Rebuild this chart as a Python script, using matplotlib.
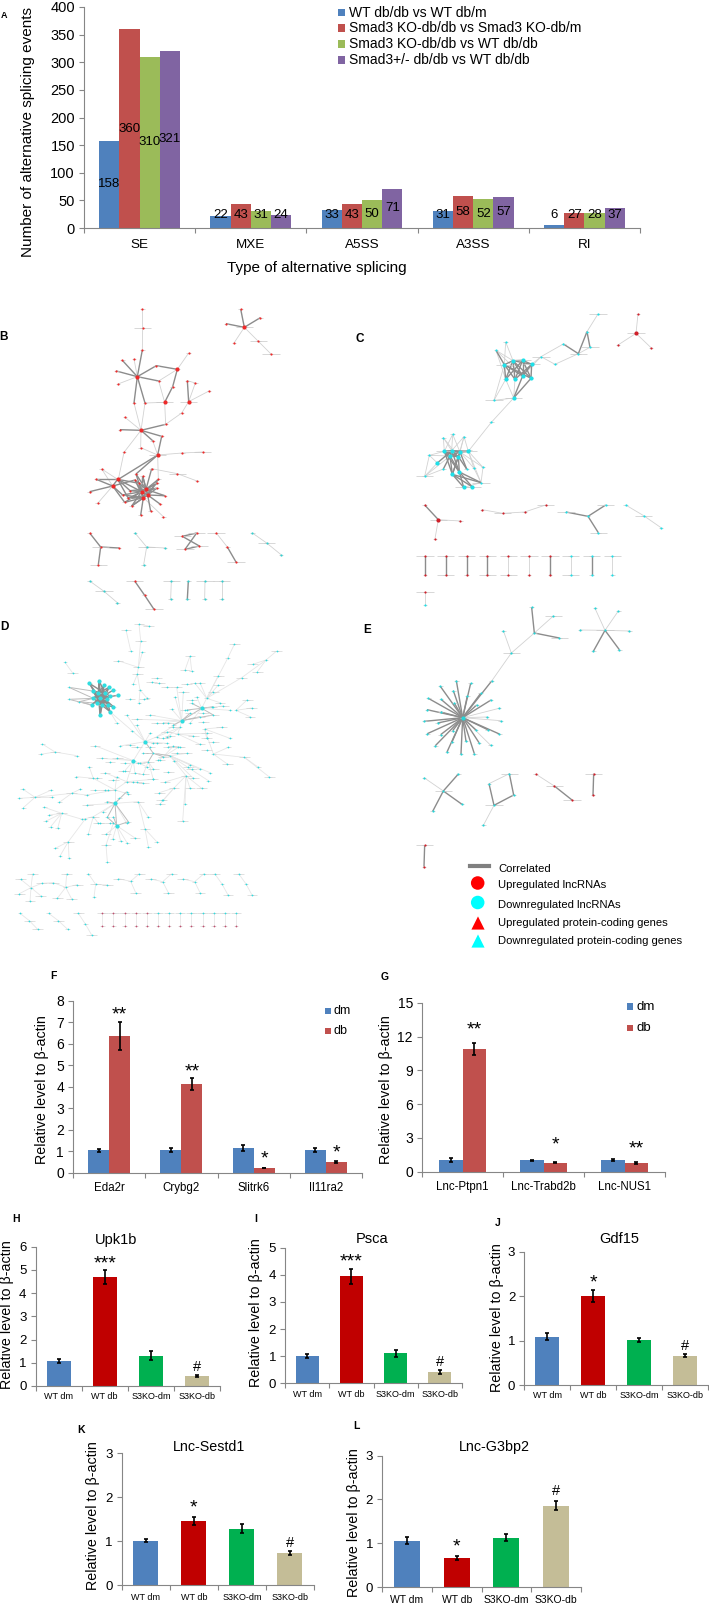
#!/usr/bin/env python3
# -*- coding: utf-8 -*-

import matplotlib
matplotlib.use("Agg")
import matplotlib.pyplot as plt
from matplotlib.collections import LineCollection

W, H = 709, 1607

# ---------------------------------------------------------------------
# Panel A
A_types = ["SE", "MXE", "A5SS", "A3SS", "RI"]
A_names = ["WT db/db vs WT db/m", "Smad3 KO-db/db vs Smad3 KO-db/m",
           "Smad3 KO-db/db vs WT db/db", "Smad3+/- db/db vs WT db/db"]
A_wt = [158, 22, 33, 31, 6]
A_ko = [360, 43, 43, 58, 27]
A_ko_wt = [310, 31, 50, 52, 28]
A_het = [321, 24, 71, 57, 37]
A_ticks = [0, 50, 100, 150, 200, 250, 300, 350, 400]

# ---------------------------------------------------------------------
# Panels F, G
F_genes = ["Eda2r", "Crybg2", "Slitrk6", "Il11ra2"]
F_dm = [1.05, 1.07, 1.15, 1.07]
F_db = [6.37, 4.14, 0.22, 0.50]
F_dm_err = [0.07, 0.10, 0.12, 0.09]
F_db_err = [0.67, 0.27, 0.02, 0.03]
F_marks = ["**", "**", "*", "*"]
F_mark_y = [7.33, 4.70, 0.63, 0.90]

G_genes = ["Lnc-Ptpn1", "Lnc-Trabd2b", "Lnc-NUS1"]
G_dm = [1.05, 1.03, 1.05]
G_db = [10.9, 0.80, 0.75]
G_dm_err = [0.20, 0.05, 0.07]
G_db_err = [0.50, 0.06, 0.07]
G_marks = ["**", "*", "**"]
G_mark_y = [12.6, 2.37, 2.0]

# ---------------------------------------------------------------------
# Panels H - L
groups = ["WT dm", "WT db", "S3KO-dm", "S3KO-db"]
H_vals = [1.08, 4.70, 1.30, 0.42]
H_errs = [0.10, 0.30, 0.20, 0.04]
H_marks = ["", "***", "", "#"]
H_mark_y = [0, 5.27, 0, 0.83]
I_vals = [1.00, 3.95, 1.10, 0.42]
I_errs = [0.08, 0.28, 0.14, 0.06]
I_marks = ["", "***", "", "#"]
I_mark_y = [0, 4.47, 0, 0.78]
J_vals = [1.09, 2.00, 1.01, 0.66]
J_errs = [0.08, 0.13, 0.05, 0.04]
J_marks = ["", "*", "", "#"]
J_mark_y = [0, 2.30, 0, 0.88]
K_vals = [1.01, 1.45, 1.28, 0.73]
K_errs = [0.03, 0.09, 0.10, 0.04]
K_marks = ["", "*", "", "#"]
K_mark_y = [0, 1.75, 0, 0.95]
L_vals = [1.06, 0.66, 1.13, 1.86]
L_errs = [0.08, 0.05, 0.08, 0.10]
L_marks = ["", "*", "", "#"]
L_mark_y = [0, 0.91, 0, 2.20]

# ---------------------------------------------------------------------
# Networks, node positions read off the 350x330 crops (crop px x 3)
# each entry: (node, [linked nodes])
B_heavy = [
    ((733, 142), [(722, 87), (781, 113), (678, 131)]),
    ((412, 290), [(427, 210), (367, 241), (349, 273), (476, 303), (402, 369), (435, 369), (469, 257)]),
    ((532, 268), [(469, 257), (518, 320)]),
    ((494, 367), [(518, 320)]),
    ((566, 365), [(562, 302)]),
    ((423, 451), [(360, 449), (497, 433), (485, 469), (458, 482)]),
    ((473, 525), [(485, 469), (408, 582), (355, 598)]),
    ((338, 618), [(269, 635), (353, 598), (289, 598), (368, 645), (374, 667), (405, 600)]),
    ((353, 598), [(289, 598), (418, 610), (390, 632), (385, 655), (425, 635)]),
    ((425, 635), [(408, 582), (428, 588), (405, 600), (418, 610), (390, 632), (385, 655), (368, 645),
                  (374, 667), (395, 678), (470, 610), (470, 625), (438, 628), (443, 645), (430, 653)]),
    ((438, 628), [(408, 582), (428, 588), (455, 566), (475, 598), (405, 600), (470, 610), (470, 625),
                  (494, 647), (443, 645), (430, 653), (390, 632)]),
    ((443, 645), [(475, 598), (470, 625), (494, 647), (480, 672), (452, 694), (385, 655), (395, 678),
                  (428, 588), (430, 653)]),
    ((430, 653), [(374, 667), (395, 678), (368, 645), (385, 655), (405, 600), (422, 706), (470, 610)]),
    ((302, 801), [(269, 759), (357, 804), (295, 854)]),
    ((547, 769), [(590, 759), (598, 798)]),
    ((555, 808), [(590, 759), (598, 798)]),
    ((682, 801), [(708, 846)]),
    ((404, 903), [(434, 946)]),
    ((434, 946), [(462, 988)]),
    ((565, 903), [(562, 957)]),
]
B_light = [
    ((733, 142), [(702, 189), (775, 184)]),
    ((775, 184), [(813, 222)]),
    ((428, 144), [(427, 87), (427, 210)]),
    ((412, 290), [(402, 237), (354, 312)]),
    ((532, 268), [(566, 219), (476, 303)]),
    ((494, 367), [(435, 369), (476, 303), (497, 433)]),
    ((566, 365), [(586, 309), (627, 333), (545, 399)]),
    ((562, 302), [(586, 309)]),
    ((545, 399), [(497, 433)]),
    ((423, 451), [(435, 369), (402, 369), (375, 412), (422, 503), (372, 517)]),
    ((473, 525), [(458, 482), (422, 503), (547, 519), (475, 598)]),
    ((547, 519), [(608, 516)]),
    ((372, 517), [(355, 598)]),
    ((338, 618), [(293, 670), (305, 567)]),
    ((353, 598), [(305, 567)]),
    ((455, 566), [(532, 581)]),
    ((532, 581), [(591, 603)]),
    ((430, 653), [(490, 710)]),
    ((440, 801), [(405, 759), (495, 804), (431, 854)]),
    ((648, 758), [(682, 801)]),
    ((800, 789), [(757, 759), (843, 824)]),
    ((312, 934), [(269, 903), (352, 968)]),
    ((514, 903), [(512, 957)]),
    ((615, 903), [(614, 957)]),
    ((665, 903), [(665, 957)]),
]
B_hubs = [(733, 142), (412, 290), (532, 268), (494, 367), (566, 365), (423, 451), (473, 525), (338, 618),
          (353, 598), (425, 635), (438, 628), (443, 645), (430, 653)]
B_other_colour = [(440, 801), (405, 759), (495, 804), (431, 854), (800, 789), (757, 759), (843, 824),
                  (312, 934), (269, 903), (352, 968), (514, 903), (512, 957), (565, 903), (562, 957),
                  (615, 903), (614, 957), (665, 903), (665, 957)]
B_labelled = [(428, 144), (733, 142), (775, 184), (813, 222), (494, 367), (566, 365), (608, 516), (532, 581),
              (473, 525), (302, 801), (295, 854), (440, 801), (547, 769), (590, 759), (598, 798), (555, 808),
              (648, 758), (708, 846), (800, 789), (312, 934), (404, 903), (462, 988), (514, 903), (615, 903),
              (665, 903)]

C_heavy = [
    ((640, 192), [(685, 221)]),
    ((685, 221), [(711, 155)]),
    ((711, 155), [(720, 202)]),
    ((714, 709), [(648, 696), (767, 675), (745, 758)]),
    ((265, 719), [(224, 675)]),
    ((463, 254), [(489, 242), (518, 288), (495, 298), (467, 298), (543, 295), (438, 211)]),
    ((489, 242), [(518, 241), (545, 253), (467, 298), (495, 298), (518, 288), (543, 295)]),
    ((518, 241), [(467, 298), (495, 298), (518, 288), (543, 295), (545, 253)]),
    ((545, 253), [(495, 298), (518, 288), (543, 295)]),
    ((491, 354), [(543, 295), (518, 288)]),
    ((283, 514), [(305, 512), (330, 516), (355, 514), (300, 528), (325, 530), (307, 583), (328, 576)]),
    ((305, 512), [(330, 516), (355, 514), (300, 528), (325, 530), (328, 576), (262, 549)]),
    ((330, 516), [(355, 514), (300, 528), (325, 530), (307, 583), (350, 567)]),
    ((300, 528), [(325, 530), (328, 576), (307, 583), (280, 567)]),
    ((325, 530), [(307, 583), (328, 576), (350, 567)]),
    ((307, 583), [(341, 622), (366, 620), (393, 608)]),
    ((328, 576), [(341, 622), (366, 620), (393, 608)]),
    ((225, 829), [(225, 885)]),
    ((287, 829), [(287, 885)]),
    ((350, 829), [(350, 885)]),
    ((412, 829), [(412, 885)]),
    ((600, 829), [(600, 885)]),
    ((725, 829), [(725, 885)]),
]
C_light = [
    ((438, 211), [(467, 298), (489, 242), (518, 288)]),
    ((467, 186), [(463, 254), (489, 242)]),
    ((432, 361), [(467, 298), (463, 254), (491, 354)]),
    ((491, 354), [(467, 298), (495, 298), (424, 427)]),
    ((424, 427), [(358, 510)]),
    ((573, 230), [(545, 253), (615, 253), (640, 192), (518, 288)]),
    ((615, 253), [(685, 221)]),
    ((685, 221), [(720, 202)]),
    ((711, 155), [(744, 102)]),
    ((280, 473), [(283, 514), (305, 512), (325, 530)]),
    ((308, 463), [(305, 512), (283, 514), (330, 516)]),
    ((342, 470), [(330, 516), (305, 512), (355, 514), (325, 530)]),
    ((238, 526), [(283, 514), (300, 528), (262, 549), (224, 589)]),
    ((224, 589), [(262, 549), (300, 528), (280, 567)]),
    ((372, 565), [(330, 516), (355, 514)]),
    ((399, 562), [(355, 514), (393, 608), (330, 516)]),
    ((393, 608), [(355, 514), (341, 622), (372, 565)]),
    ((858, 160), [(864, 102), (804, 195), (903, 203)]),
    ((265, 719), [(331, 723), (255, 776)]),
    ((458, 700), [(396, 689), (524, 696)]),
    ((524, 696), [(587, 675)]),
    ((881, 707), [(827, 675), (933, 743)]),
    ((475, 829), [(475, 885)]),
    ((537, 829), [(537, 885)]),
    ((662, 829), [(662, 885)]),
    ((787, 829), [(787, 885)]),
    ((225, 937), [(225, 975)]),
]
C_hubs = [(463, 254), (489, 242), (518, 241), (545, 253), (467, 298), (495, 298), (518, 288), (543, 295),
          (491, 354), (283, 514), (305, 512), (330, 516), (355, 514), (300, 528), (325, 530), (262, 549),
          (307, 583), (328, 576), (341, 622), (366, 620), (858, 160), (265, 719)]
C_other_colour = [(858, 160), (864, 102), (804, 195), (903, 203), (265, 719), (224, 675), (331, 723), (255, 776),
                  (396, 689), (458, 700), (524, 696), (587, 675), (225, 829), (287, 829), (350, 829), (412, 829),
                  (475, 829), (537, 829), (600, 829), (225, 885), (287, 885), (350, 885), (412, 885), (475, 885),
                  (537, 885), (600, 885), (225, 937)]
C_labelled = [(744, 102), (720, 202), (685, 221), (573, 230), (518, 241), (545, 253), (463, 254), (432, 361),
              (491, 354), (283, 514), (355, 514), (224, 589), (393, 608), (341, 622), (366, 620), (858, 160),
              (265, 719), (458, 700), (587, 675), (648, 696), (767, 675), (745, 758), (881, 707),
              (225, 829), (287, 829), (350, 829), (412, 829), (475, 829), (537, 829), (600, 829), (662, 829),
              (725, 829), (787, 829), (287, 885), (412, 885), (475, 885), (662, 885), (225, 937)]

D_heavy = [
    ((300, 265), [(268, 220), (297, 212), (312, 226), (327, 232), (340, 240), (353, 256), (278, 243), (295, 250),
                  (315, 250), (330, 258), (280, 265), (320, 268), (275, 285), (290, 280), (305, 285), (325, 285),
                  (340, 290), (300, 315), (330, 305)]),
    ((315, 250), [(268, 220), (297, 212), (278, 243), (295, 250), (330, 258), (280, 265), (320, 268), (275, 285),
                  (290, 280), (305, 285), (325, 285), (300, 315), (330, 305)]),
    ((295, 250), [(297, 212), (312, 226), (327, 232), (280, 265), (320, 268), (290, 280), (305, 285), (325, 285),
                  (340, 290), (300, 315)]),
    ((305, 285), [(268, 220), (297, 212), (312, 226), (327, 232), (278, 243), (330, 258), (280, 265), (320, 268),
                  (340, 290), (300, 315), (330, 305)]),
]
D_mid = [
    ((207, 232), [(278, 243), (280, 265)]),
    ((207, 268), [(275, 285), (280, 265)]),
    ((238, 275), [(280, 265), (275, 285), (290, 280)]),
    ((545, 332), [(605, 295), (640, 315), (600, 320), (570, 310), (520, 345)]),
    ((605, 295), [(575, 280), (560, 300), (640, 315), (640, 290)]),
    ((345, 580), [(380, 545), (322, 622), (350, 647), (320, 575), (385, 635)]),
    ((350, 647), [(322, 622), (385, 635), (340, 620)]),
    ((460, 430), [(435, 395), (445, 455), (490, 440), (510, 437), (430, 430)]),
]
D_light = [
    ((195, 157), [(218, 189)]),
    ((378, 60), [(392, 122)]),
    ((417, 43), [(446, 48), (422, 92)]),
    ((422, 92), [(415, 172)]),
    ((415, 172), [(354, 152), (427, 127), (412, 193)]),
    ((412, 193), [(400, 222), (420, 240)]),
    ((420, 240), [(417, 278), (442, 265)]),
    ((570, 138), [(555, 180), (575, 182)]),
    ((703, 103), [(683, 145)]),
    ((683, 145), [(620, 265)]),
    ((830, 123), [(798, 150)]),
    ((798, 150), [(758, 163), (772, 185), (725, 203)]),
    ((725, 203), [(620, 265)]),
    ((708, 301), [(742, 269), (755, 294), (750, 320)]),
    ((655, 197), [(620, 265)]),
    ((620, 265), [(605, 295), (585, 220), (600, 218), (640, 245), (655, 225), (660, 278)]),
    ((545, 332), [(450, 315), (410, 328), (490, 338), (470, 380), (540, 352), (515, 297), (530, 232), (550, 245), (525, 260)]),
    ((540, 352), [(435, 395), (533, 372), (502, 380)]),
    ((605, 295), [(670, 288), (570, 340), (590, 260), (690, 301)]),
    ((614, 357), [(665, 352), (640, 432), (620, 385), (690, 385)]),
    ((640, 432), [(682, 462), (733, 442), (685, 412)]),
    ((733, 442), [(775, 472), (808, 501)]),
    ((435, 395), [(380, 315), (410, 345), (396, 362), (450, 370), (360, 408), (400, 452), (460, 400), (500, 400)]),
    ((330, 305), [(396, 362), (350, 338)]),
    ((400, 452), [(285, 407), (305, 445), (352, 445), (375, 482), (405, 490), (380, 515), (440, 470)]),
    ((380, 515), [(345, 540), (315, 488), (400, 515), (430, 520), (458, 508)]),
    ((345, 540), [(280, 505), (260, 555), (315, 540), (350, 500), (385, 552), (345, 580)]),
    ((280, 505), [(268, 472), (228, 500)]),
    ((345, 580), [(262, 585), (280, 620), (310, 605), (380, 640), (415, 575), (358, 565)]),
    ((280, 620), [(247, 628), (265, 672), (295, 640)]),
    ((350, 647), [(318, 673), (338, 688), (362, 693), (382, 700), (405, 684)]),
    ((318, 705), [(322, 755), (340, 640)]),
    ((415, 575), [(435, 657), (445, 622)]),
    ((435, 657), [(470, 695), (445, 710)]),
    ((510, 437), [(523, 452), (570, 465), (600, 478), (558, 497), (580, 505), (630, 488), (625, 512)]),
    ((558, 497), [(522, 534), (495, 516), (570, 535), (605, 535), (555, 582), (548, 633)]),
    ((522, 534), [(490, 570), (478, 548), (480, 582)]),
    ((445, 455), [(415, 458), (460, 478), (430, 492), (460, 508)]),
    ((490, 440), [(520, 408), (535, 412), (560, 430), (475, 450)]),
    ((533, 372), [(580, 378), (600, 403), (620, 370), (500, 365)]),
    ((165, 426), [(127, 402), (122, 433), (230, 437)]),
    ((105, 562), [(68, 537), (58, 565), (70, 593), (152, 541), (155, 562), (215, 550)]),
    ((215, 550), [(240, 538), (260, 555), (178, 577)]),
    ((185, 610), [(148, 615), (137, 634), (152, 650), (173, 655), (247, 628), (133, 592)]),
    ((205, 695), [(166, 715), (180, 738), (207, 743), (255, 628)]),
    ((93, 833), [(62, 808), (98, 791), (58, 851), (90, 873), (122, 857), (125, 820)]),
    ((125, 820), [(160, 818)]),
    ((197, 832), [(160, 818), (200, 791), (232, 824), (172, 865), (215, 867)]),
    ((287, 823), [(265, 791), (322, 825), (282, 861)]),
    ((392, 814), [(355, 806), (418, 791), (407, 848)]),
    ((488, 815), [(452, 807), (515, 791), (505, 848)]),
    ((584, 815), [(548, 807), (612, 791), (600, 848)]),
    ((644, 791), [(666, 822)]),
    ((666, 822), [(684, 855)]),
    ((716, 791), [(738, 822)]),
    ((738, 822), [(756, 855)]),
    ((88, 932), [(60, 910), (113, 958)]),
    ((175, 932), [(146, 910), (203, 958)]),
    ((235, 910), [(256, 942)]),
    ((256, 942), [(275, 975)]),
    ((307, 910), [(307, 948)]),
    ((340, 910), [(340, 948)]),
    ((374, 910), [(374, 948)]),
    ((408, 910), [(408, 948)]),
    ((441, 910), [(441, 948)]),
    ((474, 910), [(474, 948)]),
    ((507, 910), [(507, 948)]),
    ((540, 910), [(540, 948)]),
    ((574, 910), [(574, 948)]),
    ((608, 910), [(608, 948)]),
    ((641, 910), [(641, 948)]),
    ((674, 910), [(674, 948)]),
    ((708, 910), [(708, 948)]),
]
D_hubs = [(300, 265), (315, 250), (295, 250), (305, 285), (268, 220), (297, 212), (312, 226), (327, 232),
          (340, 240), (353, 256), (278, 243), (330, 258), (280, 265), (320, 268), (275, 285), (290, 280),
          (325, 285), (340, 290), (300, 315), (330, 305), (545, 332), (605, 295), (345, 580), (350, 647),
          (435, 395), (400, 452)]
D_other_colour = [(307, 910), (340, 910), (374, 910), (408, 910), (441, 910), (307, 948), (340, 948), (374, 948),
                  (408, 948), (441, 948), (474, 948), (507, 948), (540, 948), (574, 948), (608, 948), (641, 948),
                  (674, 948), (708, 948)]
D_labelled = [(417, 43), (446, 48), (378, 60), (422, 92), (354, 152), (415, 172), (412, 193), (218, 189),
              (570, 138), (555, 180), (703, 103), (830, 123), (758, 163), (772, 185), (725, 203), (655, 197),
              (742, 269), (755, 294), (750, 320), (665, 352), (682, 462), (733, 442), (808, 501), (585, 220),
              (600, 218), (530, 232), (550, 245), (640, 245), (655, 225), (660, 278), (670, 288), (640, 315),
              (570, 310), (600, 320), (450, 315), (410, 328), (490, 338), (285, 407), (352, 445), (305, 445),
              (375, 482), (405, 490), (315, 488), (280, 505), (315, 540), (262, 585), (280, 620), (295, 640),
              (430, 520), (458, 508), (495, 516), (522, 534), (570, 535), (605, 535), (548, 633), (478, 548),
              (480, 582), (415, 575), (435, 657), (405, 684), (318, 673), (318, 705), (165, 426), (105, 562),
              (215, 550), (185, 610), (205, 695), (62, 808), (98, 791), (58, 851), (90, 873), (122, 857),
              (125, 820), (160, 818), (200, 791), (232, 824), (172, 865), (215, 867), (287, 823), (322, 825),
              (355, 806), (418, 791), (407, 848), (452, 807), (515, 791), (505, 848), (548, 807), (612, 791),
              (600, 848), (644, 791), (684, 855), (716, 791), (756, 855), (88, 932), (175, 932), (235, 910),
              (275, 975), (113, 958), (307, 910), (340, 910), (374, 910), (408, 910), (441, 910), (474, 910),
              (507, 910), (540, 910), (574, 910), (608, 910), (641, 910), (674, 910), (708, 910),
              (460, 430), (445, 455), (490, 440), (520, 408), (535, 412), (560, 430), (580, 378), (600, 403),
              (620, 370), (500, 365), (430, 492), (460, 478), (558, 497), (580, 505),
              # unlinked strips in the crowded middle
              (500, 232), (470, 203), (455, 215), (478, 220), (560, 222), (432, 268), (390, 268), (470, 338),
              (505, 338), (555, 300), (575, 270), (610, 310), (635, 290), (610, 335), (520, 350), (620, 383),
              (540, 412), (505, 410), (390, 405), (410, 410), (450, 410), (470, 400), (490, 385), (510, 378),
              (620, 420), (640, 395), (530, 430), (480, 450), (420, 460), (375, 460), (330, 457), (505, 487),
              (410, 516), (565, 470), (575, 478), (340, 510), (290, 505), (285, 540), (325, 540), (370, 482),
              (485, 570), (300, 640), (330, 640)]

E_heavy = [
    ((553, 69), [(545, -8), (628, 84)]),
    ((765, 61), [(730, 124), (808, 119)]),
    ((338, 323), [(425, 213), (362, 220), (319, 212), (271, 229), (310, 242), (352, 258), (392, 250), (235, 265),
                  (273, 268), (313, 279), (423, 270), (380, 285), (231, 299), (272, 306), (223, 334), (263, 339),
                  (232, 371), (272, 374), (308, 362), (378, 360), (413, 359), (448, 372), (256, 407), (291, 426),
                  (306, 396), (333, 432), (348, 394), (373, 431), (387, 398)]),
    ((280, 543), [(325, 492), (336, 583), (248, 604)]),
    ((478, 491), [(491, 555)]),
    ((417, 521), [(432, 586)]),
    ((491, 555), [(432, 586)]),
    ((613, 528), [(666, 570)]),
    ((731, 491), [(729, 556)]),
    ((224, 705), [(222, 770)]),
]
E_light = [
    ((553, 69), [(610, 18), (484, 129)]),
    ((484, 129), [(460, 62), (425, 213)]),
    ((765, 61), [(690, 60), (838, 63), (805, 3), (735, -5)]),
    ((338, 323), [(447, 295), (411, 321), (452, 332), (422, 406)]),
    ((280, 543), [(222, 503)]),
    ((478, 491), [(417, 521)]),
    ((432, 586), [(400, 646)]),
    ((613, 528), [(557, 492)]),
]
E_hubs = [(338, 323)]
E_other_colour = [(613, 528), (557, 492), (666, 570), (731, 491), (729, 556), (224, 705), (222, 770)]
E_labelled = [(610, 18), (628, 84), (484, 129), (765, 61), (280, 543), (478, 491), (432, 586), (613, 528),
              (666, 570), (731, 491), (224, 705)]

legend_items = ["Correlated", "Upregulated lncRNAs", "Downregulated lncRNAs",
                "Upregulated protein-coding genes", "Downregulated protein-coding genes"]

# ---------------------------------------------------------------------
plt.rcParams["font.family"] = ["Liberation Sans", "DejaVu Sans"]
plt.rcParams["axes.edgecolor"] = "#868686"
plt.rcParams["axes.linewidth"] = 0.8

fig = plt.figure(figsize=(W / 100, H / 100), dpi=100)

page = fig.add_axes([0, 0, 1, 1], zorder=5)
page.set_xlim(0, W)
page.set_ylim(H, 0)
page.axis("off")


def px_axes(x0, x1, ytop, ybot):
    return fig.add_axes([x0 / W, 1 - ybot / H, (x1 - x0) / W, (ybot - ytop) / H])


def bar_axes(x0, x1, ytop, ybot, ymax, ticks, cats, fs, cat_fs, cat_pad=5):
    ax = px_axes(x0, x1, ytop, ybot)
    n = len(cats)
    ax.set_xlim(0, n)
    ax.set_ylim(0, ymax)
    ax.set_yticks(ticks)
    ax.set_xticks(range(n + 1), labels=[""] * (n + 1))
    ax.set_xticks([i + 0.5 for i in range(n)], labels=cats, minor=True)
    ax.tick_params(axis="x", which="major", length=3.5, width=0.8, color="#868686")
    ax.tick_params(axis="x", which="minor", length=0, labelsize=cat_fs, pad=cat_pad)
    ax.tick_params(axis="y", length=3.5, width=0.8, color="#868686", labelsize=fs, pad=3)
    ax.spines["top"].set_visible(False)
    ax.spines["right"].set_visible(False)
    return ax


def ylab(x, y, s="Relative level to β-actin", fs=10.3):
    page.text(x, y, s, rotation=90, ha="center", va="center", fontsize=fs)


def mark_text(ax, x, y, m):
    ax.text(x, y, m, ha="center", va="center", fontsize=10.5 if m == "#" else 14)


def group_bars(ax, vals, errs, marks, mark_y, bw=0.52):
    cols = ["#4F81BD", "#C00000", "#00B050", "#C4BD97"]
    xs = [i + 0.5 for i in range(len(vals))]
    ax.bar(xs, vals, bw, color=cols)
    ax.errorbar(xs, vals, yerr=errs, fmt="none", ecolor="black", elinewidth=1.2, capsize=1.5, capthick=1.2)
    for x, m, y in zip(xs, marks, mark_y):
        if m:
            mark_text(ax, x, y, m)


def pair_bars(ax, dm, db, dm_err, db_err, marks, mark_y, bw):
    xs = [i + 0.5 for i in range(len(dm))]
    left = [x - bw / 2 for x in xs]
    right = [x + bw / 2 for x in xs]
    ax.bar(left, dm, bw, color="#4F81BD")
    ax.bar(right, db, bw, color="#C0504D")
    ax.errorbar(left, dm, yerr=dm_err, fmt="none", ecolor="black", elinewidth=1.2, capsize=1.5, capthick=1.2)
    ax.errorbar(right, db, yerr=db_err, fmt="none", ecolor="black", elinewidth=1.2, capsize=1.5, capthick=1.2)
    for x, m, y in zip(right, marks, mark_y):
        mark_text(ax, x, y, m)


def draw_net(x0, y0, heavy, mid, light, hubs, other, labelled, main_col, other_col, pale=False):
    ax = fig.add_axes([x0 / W, 1 - (y0 + 330) / H, 350 / W, 330 / H])
    ax.set_xlim(0, 1050)
    ax.set_ylim(990, 0)
    ax.axis("off")
    nodes = list(labelled)
    light_col = "#e6e6e6" if pale else "#d2d2d2"
    for stars, lw, col in [(light, 0.6, light_col), (mid, 0.7, "#bcbcbc"), (heavy, 1.0, "#8c8c8c")]:
        segs = []
        for hub, leaves in stars:
            nodes.append(hub)
            for leaf in leaves:
                segs.append([hub, leaf])
                nodes.append(leaf)
        ax.add_collection(LineCollection(segs, colors=col, linewidths=lw, clip_on=False))
    nodes = sorted(set(nodes))
    half = 16 if pale else 26
    strips = [[(x - 7, y), (x + 7, y)] for x, y in nodes]
    strips += [[(x - half, y), (x + half, y)] for x, y in labelled]
    strip_col = "#d4d4d4" if pale else "#c8c8c8"
    ax.add_collection(LineCollection(strips, colors=strip_col, linewidths=0.5, clip_on=False))
    main = [n for n in nodes if n not in other and n not in hubs]
    alt = [n for n in nodes if n in other and n not in hubs]
    s_small = 1.6 if pale else 2.5
    ax.scatter([n[0] for n in main], [n[1] for n in main], s=s_small, c=main_col, lw=0, clip_on=False, zorder=3)
    ax.scatter([n[0] for n in alt], [n[1] for n in alt], s=s_small, c=other_col, lw=0, clip_on=False, zorder=3)
    hub_main = [n for n in hubs if n not in other]
    hub_alt = [n for n in hubs if n in other]
    ax.scatter([n[0] for n in hub_main], [n[1] for n in hub_main], s=9, c=main_col, lw=0, clip_on=False, zorder=4)
    ax.scatter([n[0] for n in hub_alt], [n[1] for n in hub_alt], s=9, c=other_col, lw=0, clip_on=False, zorder=4)


# ---------------------------------------------------------------------
# A
ax = bar_axes(84, 640, 7, 228, 400, A_ticks, A_types, 10.5, 9.7, cat_pad=8)
bw = 0.182
a_cols = ["#4F81BD", "#C0504D", "#9BBB59", "#8064A2"]
for k, (vals, col) in enumerate(zip([A_wt, A_ko, A_ko_wt, A_het], a_cols)):
    xs = [i + 0.5 + (k - 1.5) * bw for i in range(5)]
    ax.bar(xs, vals, bw, color=col)
    for x, v in zip(xs, vals):
        ax.text(x, max(v / 2, 23), str(v), ha="center", va="center", fontsize=9.5)
ylab(28, 132, "Number of alternative splicing events", 11)
page.text(317, 268, "Type of alternative splicing", ha="center", va="center", fontsize=11)
page.scatter([341.6] * 4, [12.7, 28, 44, 60], marker="s", s=26, c=a_cols, lw=0)
for y, name in zip([12.7, 28, 44, 60], A_names):
    page.text(349, y, name, ha="left", va="center", fontsize=10)

# ---------------------------------------------------------------------
# Networks
draw_net(0, 280, B_heavy, [], B_light, B_hubs, B_other_colour, B_labelled, "#ee2a2a", "#35d0d0")
draw_net(350, 280, C_heavy, [], C_light, C_hubs, C_other_colour, C_labelled, "#1fe0e8", "#d0202a")
draw_net(0, 610, D_heavy, D_mid, D_light, D_hubs, D_other_colour, D_labelled, "#2fdde0", "#c05070", pale=True)
draw_net(350, 610, E_heavy, [], E_light, E_hubs, E_other_colour, E_labelled, "#25d5d8", "#d0202a")

# legend of the networks
leg_y = [869, 885, 905, 923, 941]
page.plot([469.5, 488.5], [866, 866], color="#808080", lw=3)
page.scatter([477.7, 477.7], [883, 902.5], marker="o", s=95, c=["#ff0000", "#00ffff"], lw=0)
page.scatter([478, 478], [923, 941], marker="^", s=90, c=["#ff0000", "#00ffff"], lw=0)
for y, s in zip(leg_y, legend_items):
    page.text(498, y, s, ha="left", va="center", fontsize=8.1)

# ---------------------------------------------------------------------
# F, G
ax = bar_axes(73, 362, 1001, 1172.7, 8, range(9), F_genes, 10, 8.3, cat_pad=7)
pair_bars(ax, F_dm, F_db, F_dm_err, F_db_err, F_marks, F_mark_y, 0.29)
ylab(42, 1090)
ax = bar_axes(422, 665, 1003, 1171.7, 15, [0, 3, 6, 9, 12, 15], G_genes, 10, 8.3, cat_pad=7)
pair_bars(ax, G_dm, G_db, G_dm_err, G_db_err, G_marks, G_mark_y, 0.285)
ylab(386, 1090)

page.scatter([328, 328], [1011, 1031], marker="s", s=20, c=["#4F81BD", "#C0504D"], lw=0)
page.text(333.5, 1011, "dm", va="center", fontsize=9)
page.text(333.5, 1031, "db", va="center", fontsize=9)
page.scatter([630, 630], [1006.7, 1028], marker="s", s=24, c=["#4F81BD", "#C0504D"], lw=0)
page.text(636.7, 1006.7, "dm", va="center", fontsize=9.5)
page.text(636.7, 1028, "db", va="center", fontsize=9.5)

# ---------------------------------------------------------------------
# H - L
ax = bar_axes(35.5, 220, 1246.7, 1386, 6, range(7), groups, 9.5, 6.5, cat_pad=4)
group_bars(ax, H_vals, H_errs, H_marks, H_mark_y)
ylab(7, 1315)
page.text(116, 1240, "Upk1b", ha="center", va="center", fontsize=10.5)

ax = bar_axes(285, 462, 1247.7, 1383.3, 5, range(6), groups, 9.5, 6.5, cat_pad=5)
group_bars(ax, I_vals, I_errs, I_marks, I_mark_y)
ylab(255.6, 1313)
page.text(372, 1239, "Psca", ha="center", va="center", fontsize=10.5)

ax = bar_axes(524.3, 708.3, 1251.7, 1385, 3, range(4), groups, 9.5, 6.5, cat_pad=4)
group_bars(ax, J_vals, J_errs, J_marks, J_mark_y)
ylab(497, 1318)
page.text(619, 1239, "Gdf15", ha="center", va="center", fontsize=10.5)

ax = bar_axes(121.7, 314, 1453, 1585, 3, range(4), groups, 9.5, 6.5, cat_pad=5.5)
group_bars(ax, K_vals, K_errs, K_marks, K_mark_y)
ylab(93, 1516)
page.text(209, 1446.7, "Lnc-Sestd1", ha="center", va="center", fontsize=10.3)

ax = bar_axes(382, 581, 1455.7, 1587, 3, range(4), groups, 9.5, 7.5, cat_pad=5.5)
group_bars(ax, L_vals, L_errs, L_marks, L_mark_y)
ylab(354, 1523)
page.text(494, 1446.7, "Lnc-G3bp2", ha="center", va="center", fontsize=10.3)

# ---------------------------------------------------------------------
# Panel letters
letters = ["A", "B", "C", "D", "E", "F", "G", "H", "I", "J", "K", "L"]
letter_x = [4, 4, 360, 4, 367, 53, 385, 16, 256, 498, 81, 356.6]
letter_y = [16, 337, 339, 627, 630, 976, 977, 1219, 1219, 1223, 1430, 1426]
letter_fs = [6.5, 8.5, 8.5, 8.5, 8.5, 7.5, 7.5, 7.5, 7.5, 7.5, 7.5, 7.5]
for s, x, y, fs in zip(letters, letter_x, letter_y, letter_fs):
    page.text(x, y, s, ha="center", va="center", fontsize=fs, fontweight="bold")

fig.savefig("out.png", dpi=100)
